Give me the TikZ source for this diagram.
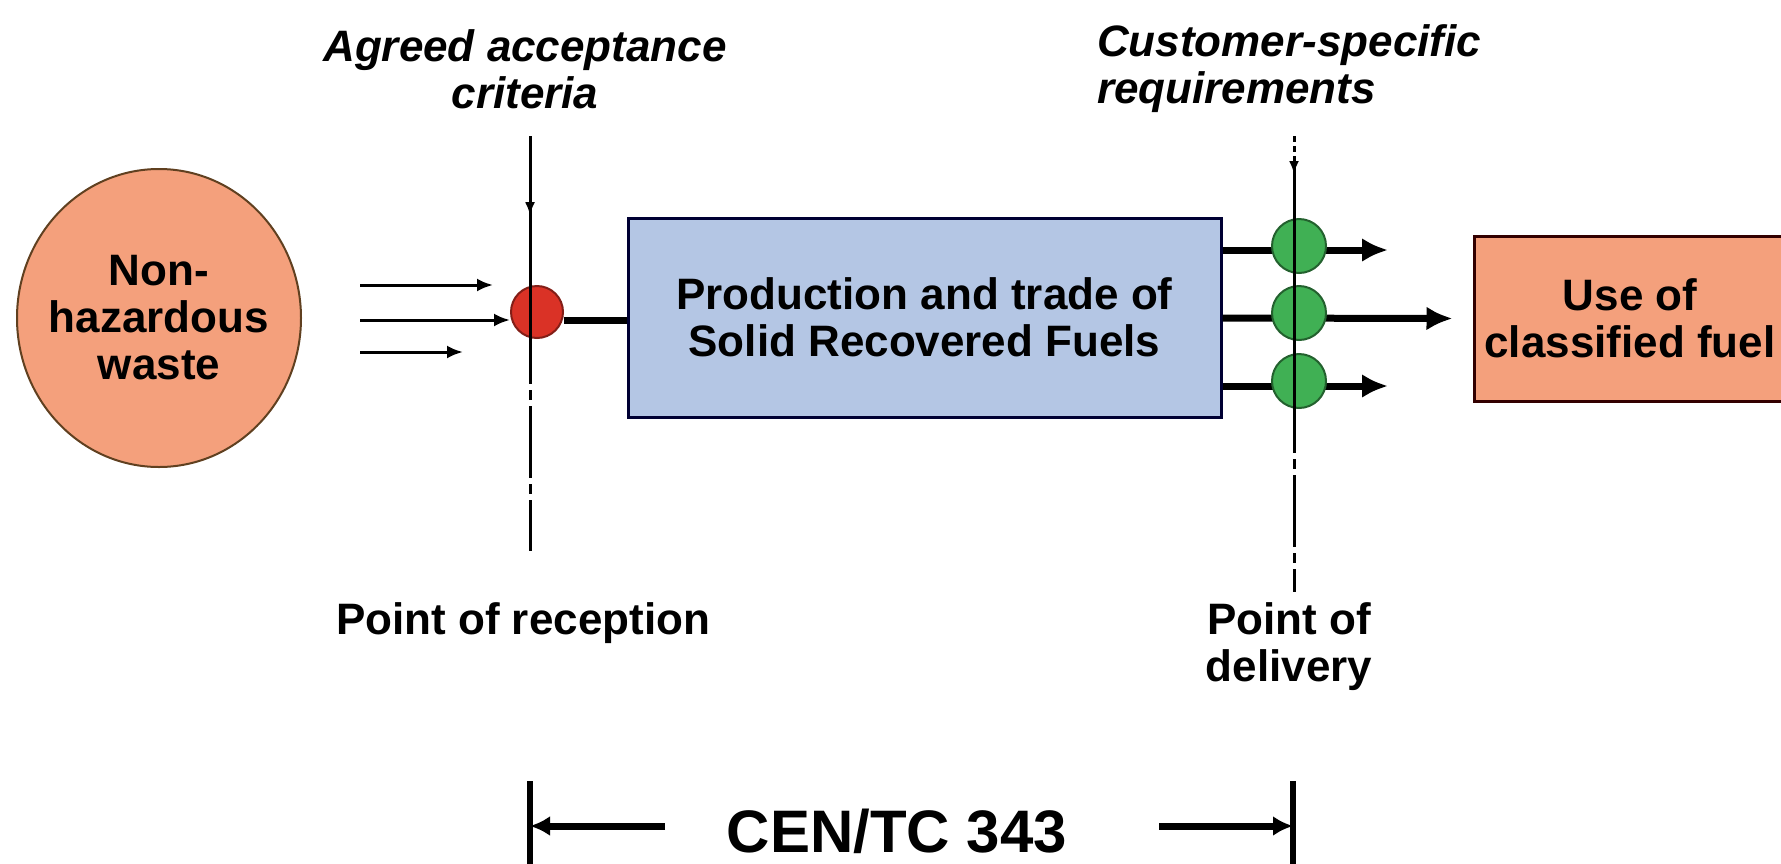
\documentclass[tikz,border=0pt]{standalone}
\usepackage{fontspec}
\setmainfont{Liberation Sans}
\usetikzlibrary{arrows.meta,shapes.geometric,decorations.markings}

\definecolor{salmon}{RGB}{244,160,124}
\definecolor{srfblue}{RGB}{180,198,228}
\definecolor{dotred}{RGB}{218,50,38}
\definecolor{dotgreen}{RGB}{64,176,84}

\tikzset{
  lbl/.style={font=\fontsize{44}{47}\selectfont\bfseries, align=center, inner sep=0pt},
  ilbl/.style={lbl, font=\fontsize{44}{47}\selectfont\bfseries\itshape},
  feed/.style={line width=3pt, -{Latex[length=16pt,width=13pt]}},
  flow/.style={line width=7pt, -{Latex[length=26pt,width=24pt]}},
  gauge/.style={line width=3pt},
  gaugetip/.style={gauge, postaction={decorate}, decoration={markings,
    mark=at position #1 with {\arrow{Latex[length=13pt,width=10pt]}}}},
  dashdot/.style={gauge, dash pattern=on 72pt off 6pt on 10pt off 6pt},
  span/.style={line width=7pt, -{Latex[length=20pt,width=20pt]}},
  bar/.style={line width=6pt}
}

\begin{document}
\begin{tikzpicture}[x=1pt,y=-1pt]
\clip (0,0) rectangle (1781,863);
\fill[white] (0,0) rectangle (1781,863);

% waste and input flows
\node[ellipse, draw=brown!50!black, line width=2pt, fill=salmon, minimum width=284pt, minimum height=298pt, lbl, inner xsep=-30pt] (waste) at (159,318) {Non-\\hazardous\\waste};
\node[circle, draw=dotred!60!black, line width=2pt, fill=dotred, minimum size=52pt, inner sep=0pt] (recv) at (537,312) {};
\foreach \y/\e in {285/493, 352/463}
  \draw[feed] (360,\y) -- (\e,\y);
\draw[feed] (360,320) -- (recv.west |- 0,320);

% production box
\node[draw=black!80!blue, line width=3pt, fill=srfblue, minimum width=593pt, minimum height=199pt, lbl] (srf) at (924.5,317.5) {Production and trade of\\Solid Recovered Fuels};
\draw[line width=7pt] (recv.east |- 0,320) -- (srf.west |- 0,320);

% use box
\node[draw=black!80!red, line width=3pt, fill=salmon, minimum width=312pt, minimum height=165pt, lbl] (use) at (1630,318.5) {Use of\\classified fuel};

% delivery flows
\draw[flow] (srf.east |- 0,250) -- (1388,250);
\draw[flow] (srf.east |- 0,318) -- ([xshift=-20pt]use.west);
\draw[flow] (srf.east |- 0,386) -- (1388,386);
\foreach \i/\y in {1/246, 2/313, 3/381}
  \node[circle, draw=dotgreen!55!black, line width=2pt, fill=dotgreen, minimum size=54pt, inner sep=0pt] (d\i) at (1299,\y) {};

% reception point
\node[ilbl] (accept) at (525,69) {Agreed acceptance\\criteria};
\coordinate (acctop) at (530,136);
\coordinate (accbot) at (530,551);
\draw[gaugetip=0.45] (acctop) -- (acctop |- recv.center);
\draw[dashdot] (acctop |- recv.center) -- (accbot);
\node[lbl] (recvlbl) at (523,623) {Point of reception};

% delivery point
\node[ilbl, align=left, anchor=west] (custreq) at (1097,69) {Customer-specific\\requirements};
\coordinate (deltop) at (1294,136);
\coordinate (delmid) at (1294,156);
\coordinate (delbot) at (1294,592);
\draw[gauge, dash pattern=on 6pt off 4pt] (deltop) -- (delmid);
\draw[gaugetip=0.08] (delmid) -- (d3.center -| delmid);
\draw[dashdot] (d3.center -| delmid) -- (delbot);
\node[lbl] (delvlbl) at (1289,647) {Point of\\delivery};

% scope of the standard
\node[font=\fontsize{60}{60}\selectfont\bfseries, inner sep=0pt] (cen) at (897,831) {CEN/TC 343};
\coordinate (lbar) at (530,826);
\coordinate (rbar) at (1293,826);
\draw[bar] (530,781) -- (530,870);
\draw[bar] (1293,781) -- (1293,870);
\draw[span] (665,826) -- (lbar);
\draw[span] (1159,826) -- (rbar);
\end{tikzpicture}
\end{document}
